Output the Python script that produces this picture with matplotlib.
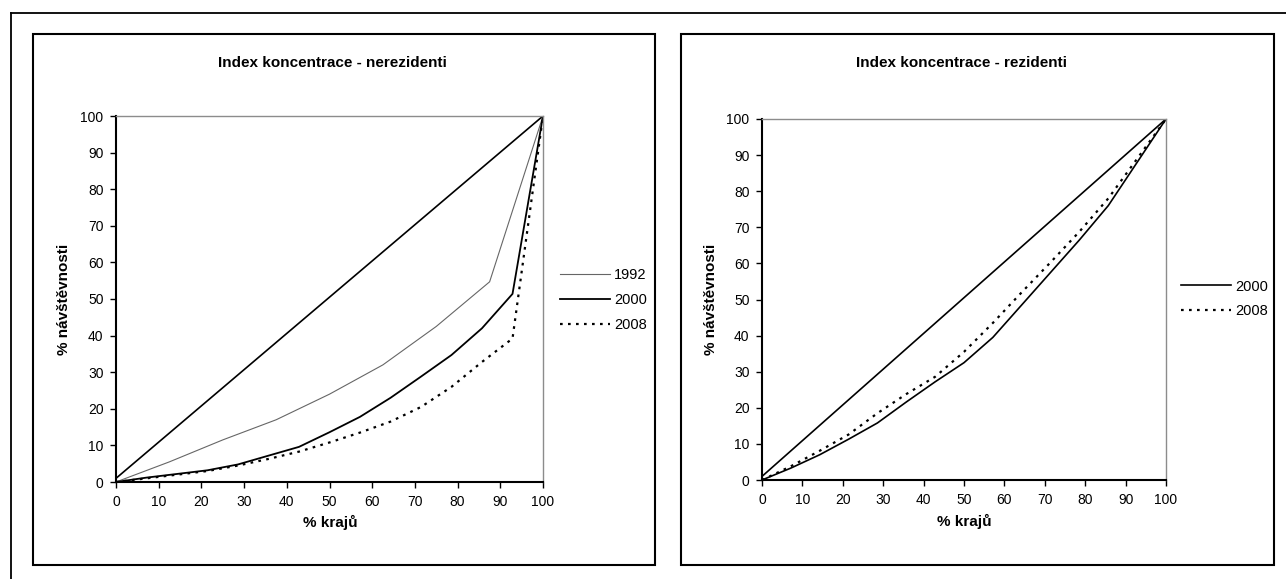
import matplotlib
matplotlib.use("Agg")
import matplotlib.pyplot as plt
from matplotlib.lines import Line2D
from matplotlib.patches import Rectangle

plt.rcParams['font.family'] = ['Liberation Sans', 'DejaVu Sans']

# % krajů (14 kraje from 2000, 8 kraje in 1992)
x14 = [0, 7.14, 14.29, 21.43, 28.57, 35.71, 42.86, 50, 57.14, 64.29, 71.43, 78.57, 85.71, 92.86, 100]
x8 = [0, 12.5, 25, 37.5, 50, 62.5, 75, 87.5, 100]

# line of equality
diag_x = [0, 100]
diag_y = [1, 100]

# nerezidenti
nerez_1992 = [0, 5.5, 11.5, 17, 24, 32, 42.5, 54.7, 100]
nerez_2000 = [0, 1.2, 2.2, 3.2, 4.8, 7.2, 9.6, 13.6, 17.8, 23.0, 28.8, 34.7, 42, 51.4, 100]
nerez_2008 = [0, 1.0, 2.0, 3.0, 4.5, 6.3, 8.3, 10.8, 13.5, 16.5, 20.5, 26, 32.8, 39.2, 100]

# rezidenti
rez_2000 = [0, 3.3, 7.0, 11.3, 15.8, 21.6, 27.2, 32.5, 39.5, 48.5, 57.5, 66.5, 76, 88, 100]
rez_2008 = [0, 3.8, 8.1, 12.6, 18.5, 23.8, 28.6, 35.5, 43.5, 52, 60.3, 68.8, 78, 89, 100]

ticks = [0, 10, 20, 30, 40, 50, 60, 70, 80, 90, 100]

W, H = 1286, 579
fig = plt.figure(figsize=(W / 100, H / 100), dpi=100)


def fx(px):
    return px / W


def fy(py):
    return 1 - py / H


# outer frame (top and left visible only)
fig.add_artist(Line2D([fx(11), fx(1290)], [fy(13), fy(13)], color='black', lw=1.3))
fig.add_artist(Line2D([fx(11), fx(11)], [fy(13), fy(590)], color='black', lw=1.3))

# panel boxes
for x0, x1 in [(33, 655), (681, 1274)]:
    fig.add_artist(Rectangle((fx(x0), fy(565)), fx(x1) - fx(x0), fy(34) - fy(565),
                             fill=False, edgecolor='black', lw=1.5))


def setup(ax):
    ax.set_xlim(0, 100)
    ax.set_ylim(0, 100)
    ax.set_xticks(ticks)
    ax.set_yticks(ticks)
    ax.tick_params(direction='out', length=4, width=1, labelsize=10, colors='black')
    ax.tick_params(axis='x', pad=5)
    ax.tick_params(axis='y', pad=5)
    for s in ['left', 'bottom']:
        ax.spines[s].set_color('black')
        ax.spines[s].set_linewidth(1.5)
    for s in ['top', 'right']:
        ax.spines[s].set_color('#8c8c8c')
        ax.spines[s].set_linewidth(1.0)


# left chart
ax1 = fig.add_axes([fx(116), fy(482), fx(543) - fx(116), fy(116) - fy(482)])
setup(ax1)
ax1.plot(diag_x, diag_y, color='black', lw=1.2)
l1, = ax1.plot(x8, nerez_1992, color='#666666', lw=0.8, label='1992')
l2, = ax1.plot(x14, nerez_2000, color='black', lw=1.3, label='2000')
l3, = ax1.plot(x14, nerez_2008, color='black', lw=1.6, linestyle=(0, (1.2, 2.4)), label='2008')
fig.legend(handles=[l1, l2, l3], loc='center left', bbox_to_anchor=(fx(560), fy(300)),
           frameon=False, fontsize=10.5, handlelength=3.4, handletextpad=0.3,
           labelspacing=0.75, borderpad=0, borderaxespad=0)
fig.text(fx(332), fy(63), 'Index koncentrace - nerezidenti', ha='center', va='center',
         fontsize=11, fontweight='bold')
fig.text(fx(330), fy(522), '% krajů', ha='center', va='center', fontsize=11, fontweight='bold')
fig.text(fx(64), fy(299), '% návštěvnosti', ha='center', va='center', rotation=90,
         fontsize=11, fontweight='bold')

# right chart
ax2 = fig.add_axes([fx(762), fy(480), fx(1166) - fx(762), fy(119) - fy(480)])
setup(ax2)
ax2.plot(diag_x, diag_y, color='black', lw=1.2)
r1, = ax2.plot(x14, rez_2000, color='black', lw=1.2, label='2000')
r2, = ax2.plot(x14, rez_2008, color='black', lw=1.6, linestyle=(0, (1.2, 2.4)), label='2008')
fig.legend(handles=[r1, r2], loc='center left', bbox_to_anchor=(fx(1181), fy(299)),
           frameon=False, fontsize=10.5, handlelength=3.4, handletextpad=0.3,
           labelspacing=0.75, borderpad=0, borderaxespad=0)
fig.text(fx(962), fy(63), 'Index koncentrace - rezidenti', ha='center', va='center',
         fontsize=11, fontweight='bold')
fig.text(fx(964), fy(521), '% krajů', ha='center', va='center', fontsize=11, fontweight='bold')
fig.text(fx(711), fy(299), '% návštěvnosti', ha='center', va='center', rotation=90,
         fontsize=11, fontweight='bold')

fig.savefig('out.png', dpi=100, facecolor='white')
